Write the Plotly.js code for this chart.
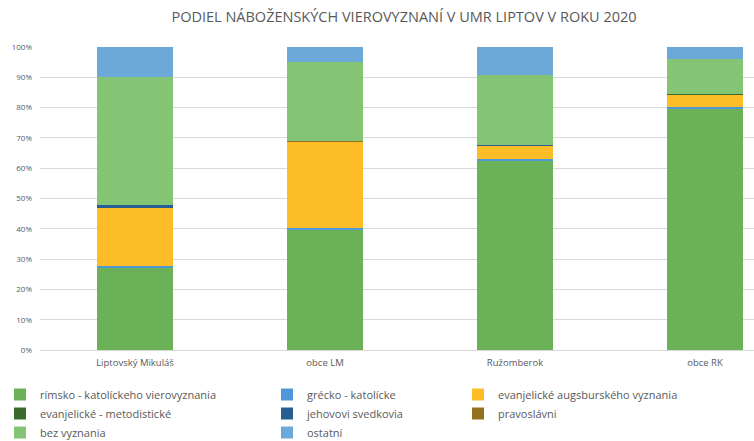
<!DOCTYPE html>
<html>
<head>
<meta charset="utf-8">
<script src="https://cdn.plot.ly/plotly-3.0.1.min.js"></script>
<style>html,body{margin:0;padding:0;background:#fff}#chart{width:754px;height:441px}</style>
</head>
<body>
<div id="chart"></div>
<script>
const categories = ["Liptovský Mikuláš", "obce LM", "Ružomberok", "obce RK"];
const seriesNames = ["rímsko - katolíckeho vierovyznania", "grécko - katolícke", "evanjelické augsburského vyznania", "evanjelické - metodistické", "jehovovi svedkovia", "pravoslávni", "bez vyznania", "ostatní"];
const rimskoKat   = [27.0, 39.5, 62.3, 79.6];
const greckoKat   = [0.7, 0.8, 0.7, 0.7];
const evanjAV     = [19.1, 28.2, 4.3, 4.0];
const evanjMet    = [0.2, 0.1, 0.1, 0.1];
const jehovovi    = [0.8, 0.2, 0.2, 0.1];
const pravoslavni = [0.2, 0.3, 0.2, 0.1];
const bezVyznania = [42.1, 25.8, 23.1, 11.4];
const ostatni     = [9.9, 5.1, 9.1, 4.0];
const yTicks = [0, 10, 20, 30, 40, 50, 60, 70, 80, 90, 100];

const values = [rimskoKat, greckoKat, evanjAV, evanjMet, jehovovi, pravoslavni, bezVyznania, ostatni];
const colors = ["#6bb157", "#4f98d8", "#fdbd26", "#3a6b2a", "#275e92", "#94711f", "#83c574", "#6ca9d9"];
const legendOf = ["legend", "legend2", "legend3", "legend", "legend2", "legend3", "legend", "legend2"];

const traces = values.map((v, i) => ({
  type: "bar",
  name: seriesNames[i],
  x: categories.map((c, j) => j),
  y: v,
  width: 0.4,
  marker: {color: colors[i], line: {width: 0}},
  legend: legendOf[i],
  hoverinfo: "name+y"
}));

const legendBase = {
  orientation: "v",
  xref: "container", yref: "container",
  xanchor: "left", yanchor: "top",
  y: 1 - 380/441,
  maxheight: 120,
  font: {family: "Open Sans, sans-serif", size: 11, color: "#595959"},
  bgcolor: "rgba(0,0,0,0)",
  borderwidth: 0,
  itemwidth: 30,
  tracegroupgap: 0,
  traceorder: "normal"
};

const layout = {
  width: 754, height: 441,
  barmode: "stack",
  paper_bgcolor: "#ffffff",
  plot_bgcolor: "#ffffff",
  margin: {l: 40, r: 0, t: 47, b: 91, autoexpand: false},
  title: {
    text: "PODIEL NÁBOŽENSKÝCH VIEROVYZNANÍ V UMR LIPTOV V ROKU 2020",
    font: {family: "Open Sans, sans-serif", size: 14.5, color: "#595959"},
    x: 404 / 754, xanchor: "center", xref: "container",
    y: 1 - 17/441, yanchor: "middle", yref: "container"
  },
  xaxis: {
    range: [-0.5, 3.258],
    tickmode: "array",
    tickvals: categories.map((c, j) => j),
    ticktext: categories,
    tickangle: 0,
    showgrid: false,
    zeroline: false,
    showline: true,
    linecolor: "#d9d9d9",
    linewidth: 1,
    ticks: "",
    ticklabelstandoff: 4,
    tickfont: {family: "Open Sans, sans-serif", size: 9.5, color: "#595959"},
    fixedrange: true
  },
  yaxis: {
    range: [0, 100],
    tickmode: "array",
    tickvals: yTicks,
    ticktext: yTicks.map(t => t + "%"),
    showgrid: true,
    gridcolor: "#d9d9d9",
    gridwidth: 1,
    zeroline: false,
    showline: false,
    ticks: "",
    ticklabelstandoff: 7,
    tickfont: {family: "Open Sans, sans-serif", size: 8, color: "#595959"},
    fixedrange: true
  },
  showlegend: true,
  legend: Object.assign({}, legendBase, {x: 0}),
  legend2: Object.assign({}, legendBase, {x: (307 - 40) / 754}),
  legend3: Object.assign({}, legendBase, {x: (498 - 40) / 754})
};

Plotly.newPlot("chart", traces, layout, {displayModeBar: false, staticPlot: true});
</script>
</body>
</html>
